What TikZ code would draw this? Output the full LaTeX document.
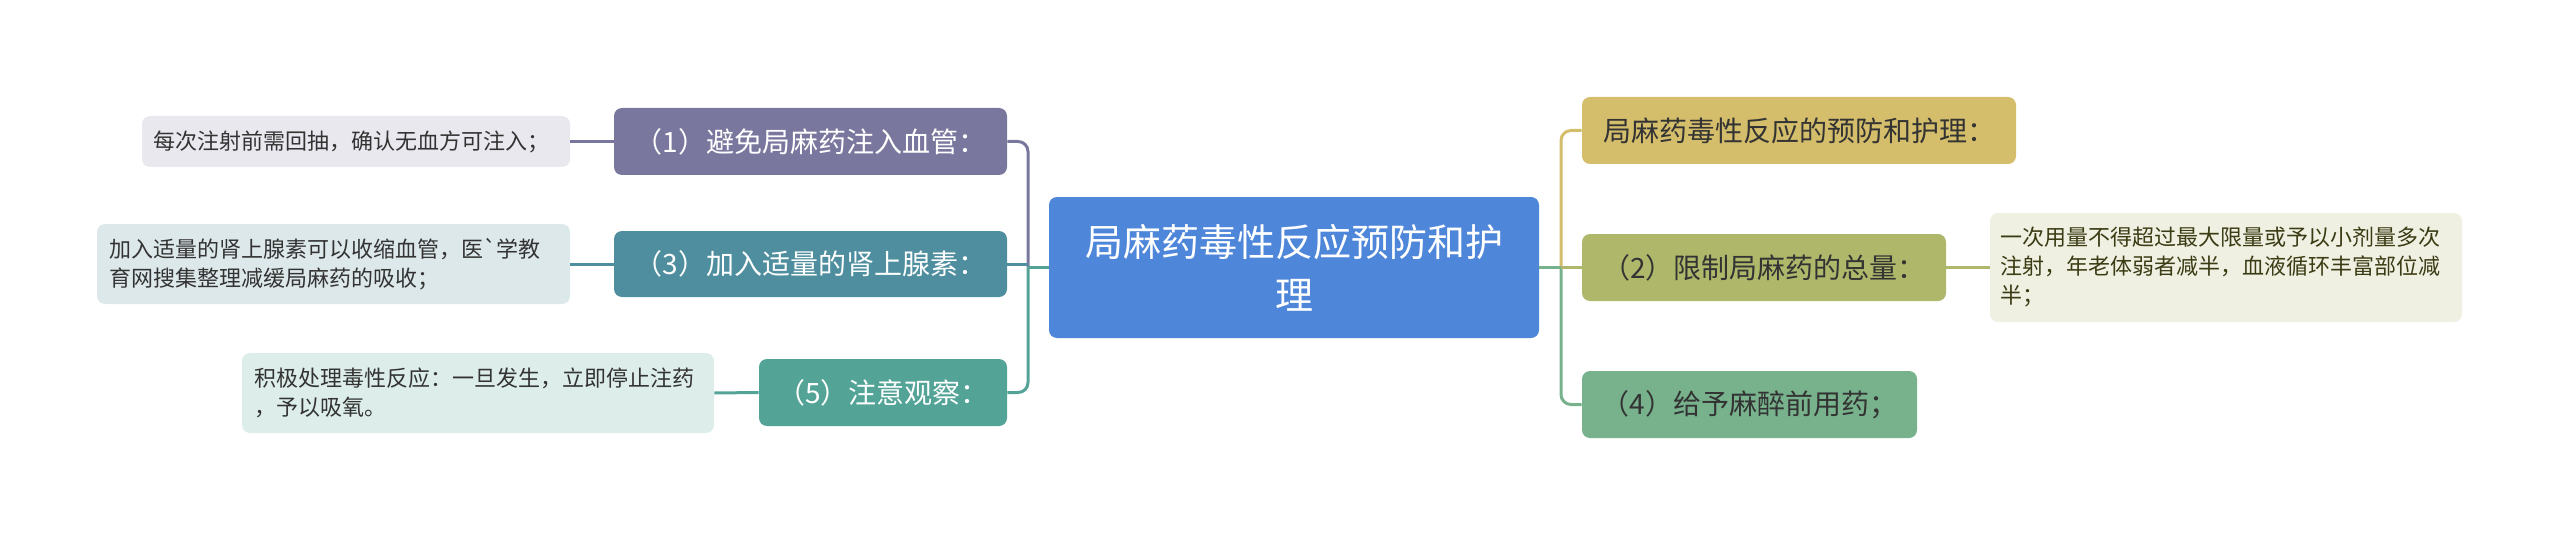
\documentclass[tikz,border=0pt]{standalone}
\usepackage{fontspec}
\newfontfamily\cjk{Noto Sans CJK SC}
\definecolor{rootblue}{HTML}{4E86D9}
\definecolor{cone}{HTML}{7A779E}
\definecolor{cthree}{HTML}{4E8E9E}
\definecolor{cfive}{HTML}{53A497}
\definecolor{cgold}{HTML}{D4BD6B}
\definecolor{ctwo}{HTML}{AEB76A}
\definecolor{cfour}{HTML}{78B28D}
\definecolor{lone}{HTML}{E9E8EF}
\definecolor{lthree}{HTML}{DDE8EB}
\definecolor{lfive}{HTML}{DDEEEA}
\definecolor{ltwo}{HTML}{EFF0E2}
\definecolor{darktext}{HTML}{333333}
\definecolor{olivetext}{HTML}{3B3B14}
\begin{document}
\begin{tikzpicture}[x=0.5pt,y=-0.5pt,
    box/.style={rounded corners=4pt,inner sep=0pt,align=center,
        font=\cjk\fontsize{14}{17}\selectfont},
    leaf/.style={rounded corners=4pt,inner sep=0pt,align=left,text=darktext,
        font=\cjk\fontsize{11}{14.5}\selectfont},
    link/.style={line width=1.5pt,rounded corners=5pt}]
        \useasboundingbox (0,0) rectangle (2560,535);
        % centre
        \node[box,fill=rootblue,text=white,minimum width=245pt,minimum height=70.5pt,
            font=\cjk\fontsize{19}{26.5}\selectfont] (root) at (1294,267.5)
            {局麻药毒性反应预防和护\\理};
        % left side
        \node[box,fill=cone,text=white,minimum width=196.5pt,minimum height=33.5pt]
            (n1) at (810.5,141.5) {（1）避免局麻药注入血管：};
        \node[box,fill=cthree,text=white,minimum width=196.5pt,minimum height=33pt]
            (n3) at (810.5,264) {（3）加入适量的肾上腺素：};
        \node[box,fill=cfive,text=white,minimum width=124pt,minimum height=33.5pt]
            (n5) at (883,392.5) {（5）注意观察：};
        \node[leaf,fill=lone,minimum width=214pt,minimum height=25.5pt,text width=203pt]
            (l1) at (356,141.5) {每次注射前需回抽，确认无血方可注入；};
        \node[leaf,fill=lthree,minimum width=236.5pt,minimum height=40pt,text width=224.5pt]
            (l3) at (333.5,264) {加入适量的肾上腺素可以收缩血管，医`学教\\育网搜集整理减缓局麻药的吸收；};
        \node[leaf,fill=lfive,minimum width=236pt,minimum height=40pt,text width=224pt]
            (l5) at (478,393) {积极处理毒性反应：一旦发生，立即停止注药\\，予以吸氧。};
        % right side
        \node[box,fill=cgold,text=darktext,minimum width=217pt,minimum height=33.5pt]
            (nA) at (1799,130.5) {局麻药毒性反应的预防和护理：};
        \node[box,fill=ctwo,text=darktext,minimum width=182pt,minimum height=33.5pt]
            (n2) at (1764,267.5) {（2）限制局麻药的总量：};
        \node[box,fill=cfour,text=darktext,minimum width=167.5pt,minimum height=33.5pt]
            (n4) at (1749.5,404.5) {（4）给予麻醉前用药；};
        \node[leaf,fill=ltwo,text=olivetext,minimum width=236pt,minimum height=54.5pt,text width=226pt]
            (l2) at (2226,267.5) {一次用量不得超过最大限量或予以小剂量多次\\注射，年老体弱者减半，血液循环丰富部位减\\半；};
        % links
        \coordinate (lj) at (1028,267.5);
        \coordinate (rj) at (1561,267.5);
        \draw[link,cone] (n1.east) -| (lj);
        \draw[link,cfive] (lj) |- (n5.east);
        \draw[link,cfive] (root.west) -- (lj);
        \draw[link,cthree] (n3.east) -- (lj |- n3.east);
        \draw[link,cgold] (rj) |- (nA.west);
        \draw[link,cfour] (rj) |- (n4.west);
        \draw[link,cfour] (root.east) -- (rj);
        \draw[link,ctwo] (rj) -- (n2.west);
        \draw[link,cone] (l1.east) -- (n1.west);
        \draw[link,cthree] (l3.east) -- (n3.west);
        \draw[link,cfive] (l5.east) -- (n5.west);
        \draw[link,ctwo] (n2.east) -- (l2.west);
    \end{tikzpicture}
\end{document}
